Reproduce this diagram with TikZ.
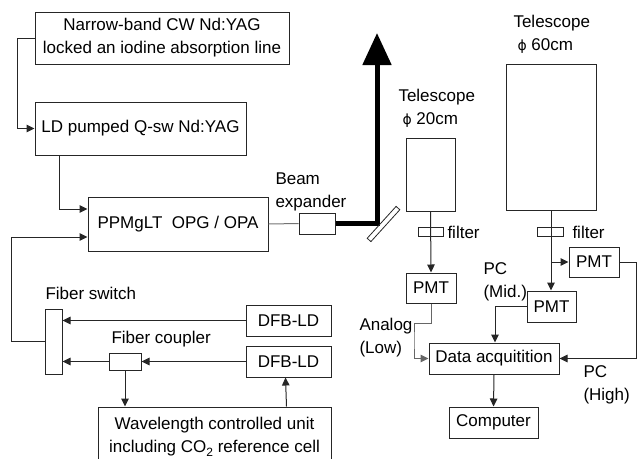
\documentclass[tikz,border=0pt]{standalone}
\usepackage{fontspec}
\setmainfont{Liberation Sans}
\newfontfamily\dvfont{DejaVu Sans}
\usetikzlibrary{arrows.meta,calc}
\begin{document}
\begin{tikzpicture}[x=1pt,y=-1pt, font=\fontsize{17}{23}\selectfont, line width=1pt,
  box/.style={draw=black!85, inner sep=0pt, align=center},
  arr/.style={draw=black!85, -{Triangle[length=8pt,width=7.5pt]}},
  ln/.style={draw=black!85},
  gln/.style={draw=black!55},
  lbl/.style={inner sep=0pt, anchor=west, align=left}]
\useasboundingbox (0,0) rectangle (639,458);

% left column
\node[box, minimum width=254pt, minimum height=52pt] (nb) at (162,38) {Narrow-band CW Nd:YAG\\locked an iodine absorption line};
\node[box, minimum width=211pt, minimum height=53pt] (ld) at (140.5,128.5) {LD pumped Q-sw Nd:YAG};
\node[box, minimum width=180pt, minimum height=54pt] (opo) at (178,224) {PPMgLT\ \ OPG / OPA};
\node[box, minimum width=17pt, minimum height=65pt] (fs) at (53.5,341.5) {};
\node[box, minimum width=85pt, minimum height=31pt] (d1) at (288.5,320.5) {DFB-LD};
\node[box, minimum width=85pt, minimum height=31pt] (d2) at (288.5,361.5) {DFB-LD};
\node[box, minimum width=32pt, minimum height=17pt] (cp) at (125,361.5) {};
\node[box, minimum width=233pt, minimum height=55pt, text depth=0pt] (wl) at (214.5,434.5) {};
\node[inner sep=0pt, align=center] (wlt) at (214.5,437) {Wavelength controlled unit\\including CO\raisebox{-0.35ex}{\fontsize{12}{12}\selectfont 2} reference cell};
\node[box, minimum width=36pt, minimum height=21pt] (ex) at (317,223.5) {};

% labels left
\node[lbl] (fsl) at (45,293) {Fiber switch};
\node[lbl] (cpl) at (111,339) {Fiber coupler};
\node[lbl] (exl) at (275,192) {Beam\\expander};

% connectors left
\draw[arr] (nb.west) -- ++(-17,0) |- (ld.west);
\draw[arr] ($(ld.south west)+(25,0)$) |- ([yshift=15pt]opo.west);
\draw[arr] (fs.west) -- ++(-33,0) |- ([yshift=-13pt]opo.west);
\draw[arr] (d1.west) -- (d1.west -| fs.east);
\draw[arr] (d2.west) -- (cp.east);
\draw[arr] (cp.west) -- (cp.west -| fs.east);
\draw[arr] (cp.south) -- (cp.south |- wl.north);
\draw[arr] ($(wl.north east)+(-45,0)$) -- ($(d2.south west)+(40,0)$);
\draw[gln] (opo.east) -- (ex.west);

% beam
\coordinate (bc) at (377,223.5);
\coordinate (btop) at (377,33);
\draw[line width=5pt, line join=miter, -{Triangle[length=32pt,width=28pt]}] (ex.east) -- (bc) -- (btop);
\node[draw=black!85, line width=0.8pt, minimum width=43pt, minimum height=5pt, inner sep=0pt, rotate=47.8] (mir) at (383.5,224) {};

% right side
\node[box, minimum width=49pt, minimum height=73pt] (t20) at (430.5,174.5) {};
\node[box, minimum width=90pt, minimum height=146pt] (t60) at (551,137) {};
\node[lbl] (t20l) at (398,108) {Telescope\\\hspace*{4pt}{\dvfont\fontsize{14}{14}\selectfont ϕ} 20cm};
\node[lbl] (t60l) at (513,34) {Telescope\\\hspace*{4pt}{\dvfont\fontsize{14}{14}\selectfont ϕ} 60cm};
\node[box, minimum width=50pt, minimum height=30pt] (p1) at (431,288) {PMT};
\node[box, minimum width=50pt, minimum height=30pt] (ph) at (594,262) {PMT};
\node[box, minimum width=49pt, minimum height=31pt] (pm) at (551.5,306.5) {PMT};
\node[box, minimum width=130pt, minimum height=31pt] (da) at (494,358.5) {Data acquitition};
\node[box, minimum width=89pt, minimum height=31pt] (co) at (493.5,422.5) {Computer};

\draw[arr] (t20.south) -- (p1.north);
\draw[arr] (t60.south) -- (t60.south |- pm.north);
\node[box, minimum width=25pt, minimum height=9pt] (f1) at (430.5,232) {};
\node[box, minimum width=26pt, minimum height=9pt] (f2) at (550,231.5) {};
\node[lbl] (f1l) at (447,232) {filter};
\node[lbl] (f2l) at (572,232) {filter};

\draw[arr] (t60.south |- ph.west) -- (ph.west);
\draw[arr] (ph.east) -- ++(17,0) |- (da.east);
\draw[arr] (pm.west) -| ($(da.north)+(1,0)$);
\draw[arr, draw=black!60] (p1.south) -- ++(0,20) -| (414,340) |- (da.west);
\draw[arr] (da.south) -- (co.north);

\node[lbl] (anl) at (359,338) {Analog\\(Low)};
\node[lbl] (pcm) at (483,282) {PC\\(Mid.)};
\node[lbl] (pch) at (583,385) {PC\\(High)};
\end{tikzpicture}
\end{document}
